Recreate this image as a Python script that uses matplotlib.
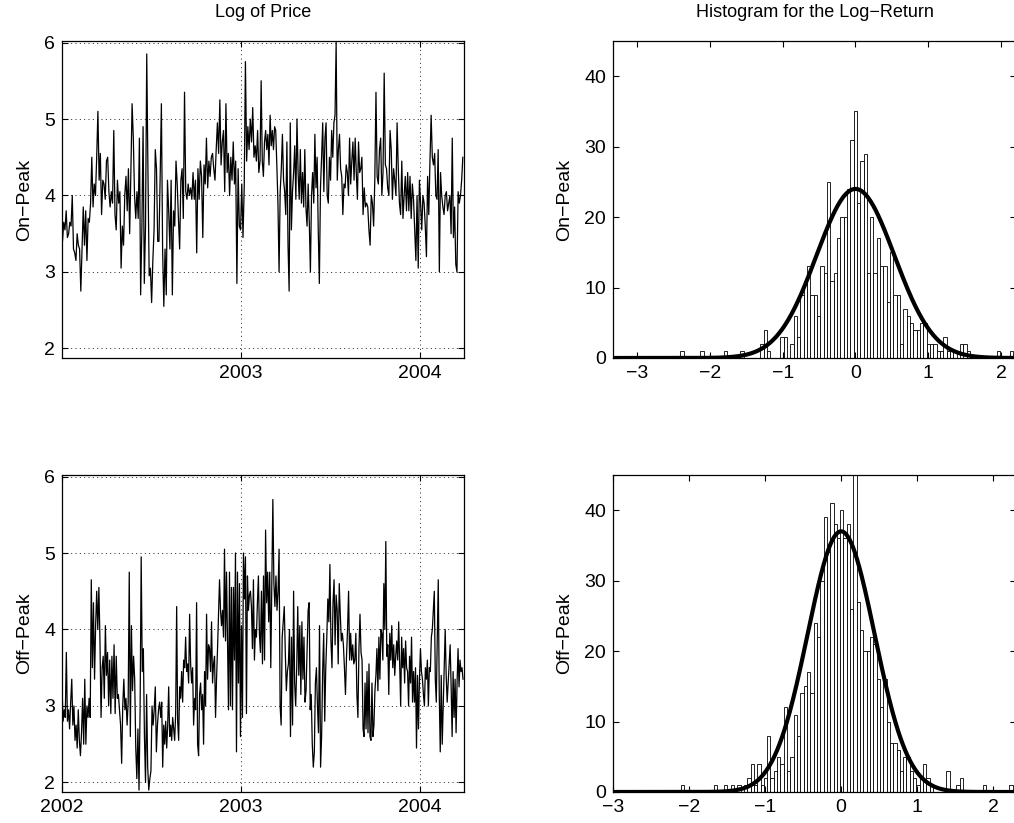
import numpy as np
import matplotlib
matplotlib.use("Agg")
import matplotlib.pyplot as plt

plt.rcParams["font.family"] = ["Liberation Sans", "DejaVu Sans"]
plt.rcParams["font.size"] = 14
plt.rcParams["axes.unicode_minus"] = True

# ---- log price series (decimal years); each segment spans seg_bounds[k]..seg_bounds[k+1]
seg_bounds = [2002.0, 2002.551, 2003.1075, 2003.675, 2004.244]

onpeak_a = [3.5, 3.4, 3.65, 3.55, 3.8, 3.45, 3.5, 3.65, 3.6, 4.0, 3.3, 3.25, 3.15, 3.5, 3.35,
            3.3, 2.75, 3.3, 3.85, 3.35, 3.8, 3.15, 3.7, 3.65, 3.9, 4.5, 3.85, 4.15, 4.0, 4.5,
            5.1, 4.2, 4.55, 3.75, 4.2, 4.15, 3.95, 4.45, 4.5, 4.05, 3.85, 4.05, 3.9, 4.85, 3.75,
            3.55, 4.2, 3.9, 4.05, 3.05, 3.6, 3.35, 4.0, 4.25, 3.8, 4.35, 3.5, 4.3, 5.2, 4.75,
            4.0, 3.7, 4.05, 3.7, 4.75, 2.7, 3.55, 4.9, 2.85, 3.6, 5.85, 4.3, 2.95, 3.05, 2.6,
            3.15, 3.55, 4.6, 4.35, 3.4, 3.4]
onpeak_b = [4.25, 5.2, 3.3, 2.55, 3.3, 2.7, 4.2, 3.8, 3.3, 4.2, 2.7, 3.8, 3.6, 4.45, 4.15,
            3.7, 3.3, 4.2, 4.35, 3.7, 5.35, 4.05, 3.95, 4.15, 4.0, 4.1, 3.95, 4.3, 3.95, 4.2,
            3.25, 4.35, 3.95, 4.45, 4.25, 3.45, 4.4, 4.15, 4.75, 4.1, 4.45, 4.25, 4.5, 4.55, 4.35,
            4.2, 4.6, 4.95, 4.55, 5.25, 4.4, 4.7, 4.85, 4.05, 5.2, 4.3, 4.55, 4.0, 4.5, 4.2,
            4.7, 4.15, 4.45, 2.85, 4.35, 3.6, 3.55, 4.15, 3.45, 4.1, 5.75, 4.45, 4.9, 4.6, 5.0,
            4.7, 5.15, 4.5, 4.65, 4.45, 4.85, 4.3]
onpeak_c = [4.45, 5.5, 4.45, 4.25, 4.7, 4.85, 4.6, 4.8, 4.4, 5.05, 4.65, 4.85, 4.6, 4.9, 4.85,
            4.4, 3.9, 3.0, 4.05, 4.35, 4.8, 4.2, 4.05, 3.75, 4.7, 3.35, 2.75, 4.95, 3.55, 4.05,
            4.3, 4.65, 3.95, 5.0, 4.3, 3.95, 4.6, 3.9, 4.3, 3.85, 4.6, 3.85, 3.6, 4.15, 3.65,
            3.0, 4.0, 4.3, 3.9, 4.8, 4.1, 4.5, 3.55, 2.85, 4.1, 4.5, 4.95, 4.05, 4.75, 4.95,
            4.0, 3.9, 4.5, 4.2, 4.85, 4.5, 4.95, 5.05, 6.0, 4.2, 4.6, 4.8, 4.35, 4.25, 3.75,
            4.15, 4.1, 4.4, 4.3, 4.0, 4.75, 4.15, 4.45, 4.7, 4.2, 4.75, 4.3, 3.95, 4.7, 4.3, 4.35]
onpeak_d = [4.5, 3.75, 4.1, 3.85, 3.9, 3.85, 3.55, 3.35, 4.0, 3.9, 3.6, 4.2, 5.35, 4.25, 4.15,
            4.6, 4.75, 4.0, 4.3, 5.6, 4.4, 4.35, 4.1, 4.0, 4.85, 4.6, 3.95, 4.35, 4.2, 4.0,
            4.95, 4.35, 3.9, 3.75, 4.45, 3.7, 4.0, 4.25, 3.8, 4.3, 3.8, 4.25, 3.7, 4.15, 3.95,
            3.55, 3.15, 4.0, 3.05, 4.2, 3.9, 3.55, 4.0, 3.9, 3.6, 3.2, 4.25, 3.75, 4.45, 5.05,
            4.5, 4.4, 4.55, 4.0, 3.95, 4.6, 3.0, 4.3, 4.0, 3.85, 3.75, 4.0, 4.05, 3.8, 3.9,
            4.0, 3.5, 4.75, 3.45, 3.85, 3.1, 3.0, 4.05, 3.9, 4.0, 4.2, 4.5]

offpeak_a = [3.25, 2.8, 2.95, 2.85, 3.7, 2.8, 2.95, 2.7, 3.05, 3.35, 2.75, 3.0, 2.55, 2.75, 2.45,
             2.95, 2.55, 2.35, 2.65, 3.1, 2.5, 3.35, 2.5, 3.0, 2.85, 3.1, 2.85, 4.65, 3.5, 4.35,
             3.35, 4.05, 4.5, 4.0, 4.55, 3.85, 2.85, 3.5, 3.65, 3.1, 4.05, 3.4, 3.7, 3.0, 3.6,
             2.9, 3.65, 3.1, 3.8, 2.9, 3.65, 3.1, 3.15, 2.95, 2.75, 2.25, 3.0, 3.35, 2.95, 3.1,
             2.75, 3.05, 4.75, 2.6, 4.05, 3.2, 3.65, 3.35, 2.45, 2.05, 2.7, 1.9, 2.95, 4.95, 3.45,
             3.75, 2.6, 2.0, 3.15, 2.2, 1.9, 2.05, 2.15, 3.0, 2.75, 2.95, 3.25, 2.4, 2.75, 2.95, 3.05]
offpeak_b = [2.85, 3.05, 2.2, 2.75, 2.5, 2.8, 2.45, 2.75, 3.25, 2.6, 2.75, 2.55, 2.85, 2.7, 2.55,
             2.9, 4.3, 2.8, 2.55, 3.25, 3.1, 3.45, 3.05, 3.6, 3.5, 3.9, 3.45, 3.55, 3.3, 4.2,
             3.55, 3.3, 3.5, 2.75, 3.1, 2.95, 4.35, 2.5, 2.35, 3.15, 3.3, 2.95, 3.15, 2.5, 3.45,
             3.0, 4.2, 3.35, 3.8, 3.75, 3.45, 4.1, 3.3, 3.55, 3.65, 2.85, 3.35, 3.75, 4.2, 4.65,
             4.25, 4.05, 4.25, 3.9, 5.05, 3.85, 4.75, 3.8, 2.95, 4.75, 3.0, 4.55, 2.95, 4.55, 3.6,
             5.0, 2.4, 4.75, 3.3, 4.6, 2.6, 4.05, 2.85, 5.0, 4.4, 4.95, 2.9, 4.7, 4.25, 4.45,
             4.5, 4.3, 3.75, 4.65, 3.6, 4.0, 3.9, 4.35, 4.7, 3.95]
offpeak_c = [3.7, 4.5, 3.55, 4.7, 3.6, 5.3, 4.35, 4.75, 4.1, 4.75, 3.5, 4.65, 5.7, 4.6, 4.3,
             4.7, 4.25, 4.5, 5.05, 3.0, 2.75, 3.9, 4.1, 4.3, 3.7, 3.2, 3.45, 3.55, 4.0, 2.6,
             3.9, 2.75, 4.5, 3.3, 3.0, 3.5, 4.3, 3.4, 4.05, 3.15, 4.1, 3.35, 3.9, 3.05, 3.2,
             3.75, 4.25, 4.35, 2.95, 3.15, 2.5, 2.2, 2.4, 3.3, 3.5, 3.0, 2.65, 4.05, 2.2, 2.6,
             3.45, 3.95, 2.8, 3.5, 3.9, 4.4, 4.1, 4.85, 3.85, 3.5, 4.35, 4.65, 3.8, 4.45, 4.25,
             3.55, 4.6, 4.2, 3.85, 3.95, 3.8, 3.5, 3.15, 3.65, 4.0, 4.5, 3.6, 3.95, 3.6, 3.8,
             3.55, 3.6, 3.95, 3.15, 2.85, 3.75, 4.2, 3.7]
offpeak_d = [3.6, 2.7, 2.6, 3.3, 2.7, 3.45, 2.65, 3.55, 2.6, 2.55, 3.3, 2.6, 2.75, 3.2, 3.4,
             3.75, 3.2, 3.9, 3.35, 4.0, 3.95, 3.6, 4.6, 4.0, 5.15, 3.65, 3.8, 3.15, 3.95, 3.6,
             4.05, 3.5, 3.8, 3.4, 3.65, 3.85, 3.6, 4.1, 3.55, 3.0, 3.9, 3.5, 3.75, 3.3, 3.85,
             3.5, 3.45, 3.0, 3.65, 3.3, 3.9, 3.05, 3.45, 3.05, 3.5, 2.45, 3.4, 2.7, 3.35, 3.75,
             3.45, 3.35, 3.15, 3.0, 3.5, 3.35, 3.6, 3.0, 3.5, 3.45, 3.9, 4.0, 4.25, 4.5, 3.35,
             3.05, 3.9, 4.65, 3.15, 2.4, 3.4, 2.5, 3.0, 3.45, 4.0, 3.4, 3.05, 3.3, 3.55, 3.8,
             3.25, 2.6, 3.45, 2.85, 3.35, 2.65, 3.3, 3.75, 3.25, 3.6, 3.45, 3.5, 3.35]

# ---- histogram counts of log returns (100 bins between lo and hi)
onpeak_range = (-2.403, 2.167)
onpeak_counts = [1, 0, 0, 0, 0, 0, 1, 0, 0, 0,
                 0, 0, 0, 1, 0, 0, 0, 0, 1, 0,
                 0, 0, 0, 0, 2, 4, 1, 0, 0, 0,
                 3, 3, 0, 2, 6, 3, 9, 11, 13, 9,
                 9, 6, 13, 12, 25, 11, 12, 17, 20, 20,
                 24, 31, 35, 22, 28, 29, 12, 20, 12, 17,
                 13, 13, 8, 15, 9, 9, 2, 7, 6, 5,
                 4, 4, 5, 5, 2, 2, 2, 1, 1, 3,
                 1, 1, 1, 0, 2, 2, 1, 0, 0, 0,
                 0, 0, 0, 0, 0, 1, 0, 0, 0, 1]
offpeak_range = (-2.107, 2.256)
offpeak_counts = [1, 0, 0, 0, 0, 0, 0, 0, 0, 0,
                  1, 0, 0, 1, 0, 1, 0, 1, 0, 1,
                  2, 4, 1, 4, 1, 2, 8, 2, 3, 5,
                  4, 12, 3, 5, 11, 8, 14, 15, 17, 14,
                  24, 22, 30, 39, 34, 41, 38, 36, 40, 36,
                  38, 26, 48, 27, 23, 20, 20, 22, 21, 16,
                  12, 16, 10, 7, 7, 6, 3, 5, 5, 3,
                  2, 1, 2, 4, 2, 1, 0, 0, 0, 0,
                  3, 0, 0, 1, 2, 0, 0, 0, 0, 0,
                  0, 1, 0, 0, 0, 0, 0, 0, 0, 1]

# normal fit overlaid on each histogram: (mean, std, peak height)
onpeak_fit = (0.0, 0.535, 24.0)
offpeak_fit = (0.0, 0.44, 37.0)


def series(segments):
    t, v = [], []
    for k, seg in enumerate(segments):
        t.append(np.linspace(seg_bounds[k], seg_bounds[k + 1], len(seg), endpoint=False))
        v.append(seg)
    return np.concatenate(t), np.concatenate(v)


def style(ax):
    ax.tick_params(direction="in", top=True, right=True, length=4, width=0.8, pad=5)
    for s in ax.spines.values():
        s.set_linewidth(0.9)


def price_panel(ax, segments, label, xlo, xticks):
    t, v = series(segments)
    ax.plot(t, v, color="black", lw=0.9)
    ax.set_xlim(xlo, seg_bounds[-1])
    ax.set_ylim(1.875, 6.02)
    ax.set_yticks([2, 3, 4, 5, 6])
    ax.set_xticks(xticks)
    ax.set_xticklabels([str(x) for x in xticks])
    ax.grid(True, color="black", lw=0.6, ls=(0, (1.2, 4)))
    ax.set_ylabel(label, labelpad=8)
    style(ax)


def hist_panel(ax, counts, rng, fit, label, xlim):
    counts = np.array(counts)
    w = (rng[1] - rng[0]) / len(counts)
    centers = rng[0] + w * (np.arange(len(counts)) + 0.5)
    ax.bar(centers, counts, width=w, facecolor="white", edgecolor="black", lw=0.6)
    mu, sd, peak = fit
    xs = np.linspace(xlim[0], xlim[1], 500)
    ax.plot(xs, peak * np.exp(-0.5 * ((xs - mu) / sd) ** 2), color="black", lw=3)
    ax.set_xlim(*xlim)
    ax.set_ylim(0, 45)
    ax.set_xticks([-3, -2, -1, 0, 1, 2])
    ax.set_yticks([0, 10, 20, 30, 40])
    ax.set_ylabel(label, labelpad=8)
    style(ax)


fig = plt.figure(figsize=(10.14, 8.23), dpi=100)
W, H = 1014, 823
ax_lp = fig.add_axes([62 / W, 1 - 358 / H, 402 / W, 317 / H])
ax_hp = fig.add_axes([613 / W, 1 - 358 / H, 403 / W, 317 / H])
ax_lo = fig.add_axes([62 / W, 1 - 792 / H, 402 / W, 317 / H])
ax_ho = fig.add_axes([613 / W, 1 - 792 / H, 403 / W, 317 / H])

price_panel(ax_lp, [onpeak_a, onpeak_b, onpeak_c, onpeak_d], "On\u2212Peak", 2002.004, [2003, 2004])
price_panel(ax_lo, [offpeak_a, offpeak_b, offpeak_c, offpeak_d], "Off\u2212Peak", 2002.0, [2002, 2003, 2004])
ax_lp.set_title("Log of Price", fontsize=13, pad=17)

hist_panel(ax_hp, onpeak_counts, onpeak_range, onpeak_fit, "On\u2212Peak", (-3.33, 2.205))
hist_panel(ax_ho, offpeak_counts, offpeak_range, offpeak_fit, "Off\u2212Peak", (-3.0, 2.30))
ax_hp.set_title("Histogram for the Log\u2212Return", fontsize=13, pad=17)

fig.savefig("out.png", dpi=100)
